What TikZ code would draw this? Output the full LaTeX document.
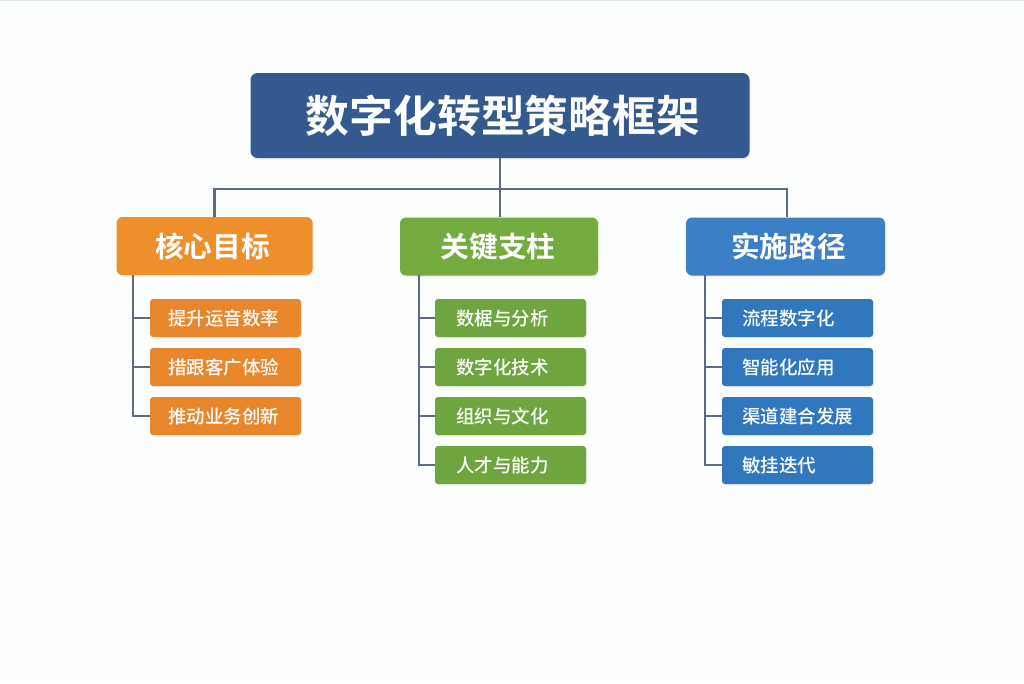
\documentclass[tikz,border=0pt]{standalone}
\usepackage{fontspec}
\setmainfont{Noto Sans CJK SC}[BoldFont={Noto Sans CJK SC Medium}]
\usetikzlibrary{shadows}
\definecolor{pagebg}{HTML}{FDFEFE}
\definecolor{edgeline}{HTML}{DDE3E6}
\definecolor{linkc}{HTML}{5A6B82}
\definecolor{titlec}{HTML}{33598F}
\definecolor{orangeA}{HTML}{EE8F2B}
\definecolor{orangeB}{HTML}{E8862C}
\definecolor{greenA}{HTML}{74AB3F}
\definecolor{greenB}{HTML}{6EA53E}
\definecolor{blueA}{HTML}{3B80C6}
\definecolor{blueB}{HTML}{3077BD}
\newfontfamily\heavycjk{Noto Sans CJK SC Bold}
\tikzset{
  x=1pt,y=-1pt,
  softshadow/.style={general shadow={shadow xshift=1pt,shadow yshift=-1.5pt,fill=black!35,opacity=.15}},
  titlebox/.style={rounded corners=7pt,fill=titlec,text=white,font=\fontsize{43.8}{50}\selectfont\heavycjk,minimum width=499pt,minimum height=85pt,inner sep=0pt,softshadow},
  catbox/.style={rounded corners=6pt,text=white,font=\fontsize{28.7}{34}\selectfont\heavycjk,minimum height=58pt,inner sep=0pt,softshadow},
  itembox/.style={rounded corners=3pt,text=white,font=\fontsize{18.5}{22}\selectfont\bfseries,minimum width=151pt,minimum height=38pt,inner ysep=0pt,inner xsep=0pt,softshadow},
  link/.style={draw=linkc,line width=2.3pt}
}
\newcommand{\itemtext}[2]{\raisebox{-0.8pt}{\makebox[151pt][l]{\hspace{#1pt}#2}}}
\newcommand{\moved}[3]{\raisebox{#2pt}{\makebox[0pt][c]{\hspace{#1pt}#3}}}
\begin{document}
\begin{tikzpicture}
\useasboundingbox (0,0) rectangle (1024,683);
\fill[pagebg] (0,0) rectangle (1024,683);
\draw[edgeline,line width=1pt] (0,0.5) -- (1024,0.5);
\node[titlebox] (title) at (500,115.5) {\moved{6}{-1}{数字化转型策略框架}};
\node[catbox,fill=orangeA,minimum width=196pt] (c1) at (214.5,246) {\moved{-4}{-1.5}{核心目标}};
\node[catbox,fill=greenA,minimum width=198pt] (c2) at (499,246.5) {\moved{-2}{-1.5}{关键支柱}};
\node[catbox,fill=blueA,minimum width=199pt] (c3) at (785.5,246.5) {\moved{6}{-1.5}{实施路径}};
\coordinate (bus) at (title.south |- 0,189);
\coordinate (t1) at (133,275);
\coordinate (t2) at (419,275);
\coordinate (t3) at (705,275);
\node[itembox,fill=orangeB] (a1) at (225.5,318) {\itemtext{18}{提升运音数率}};
\node[itembox,fill=orangeB] (a2) at (225.5,367) {\itemtext{18}{措跟客广体验}};
\node[itembox,fill=orangeB] (a3) at (225.5,416) {\itemtext{18}{推动业务创新}};
\node[itembox,fill=greenB] (b1) at (510.5,318) {\itemtext{21}{数椐与分析}};
\node[itembox,fill=greenB] (b2) at (510.5,367) {\itemtext{21}{数字化技术}};
\node[itembox,fill=greenB] (b3) at (510.5,416) {\itemtext{21}{组织与文化}};
\node[itembox,fill=greenB] (b4) at (510.5,465) {\itemtext{21}{人才与能力}};
\node[itembox,fill=blueB] (d1) at (797.5,318) {\itemtext{20}{流程数字化}};
\node[itembox,fill=blueB] (d2) at (797.5,367) {\itemtext{20}{智能化应用}};
\node[itembox,fill=blueB] (d3) at (797.5,416) {\itemtext{20}{渠道建合发展}};
\node[itembox,fill=blueB] (d4) at (797.5,465) {\itemtext{20}{敏挂迭代}};
\draw[link] (title.south) -- (title.south |- c2.north);
\draw[link] (c1.north) |- (bus) -| ([xshift=1.5pt]c3.north);
\draw[link] (t1) |- (a1.west);
\draw[link] (t1) |- (a2.west);
\draw[link] (t1) |- (a3.west);
\draw[link] (t2) |- (b1.west);
\draw[link] (t2) |- (b2.west);
\draw[link] (t2) |- (b3.west);
\draw[link] (t2) |- (b4.west);
\draw[link] (t3) |- (d1.west);
\draw[link] (t3) |- (d2.west);
\draw[link] (t3) |- (d3.west);
\draw[link] (t3) |- (d4.west);
\end{tikzpicture}
\end{document}
